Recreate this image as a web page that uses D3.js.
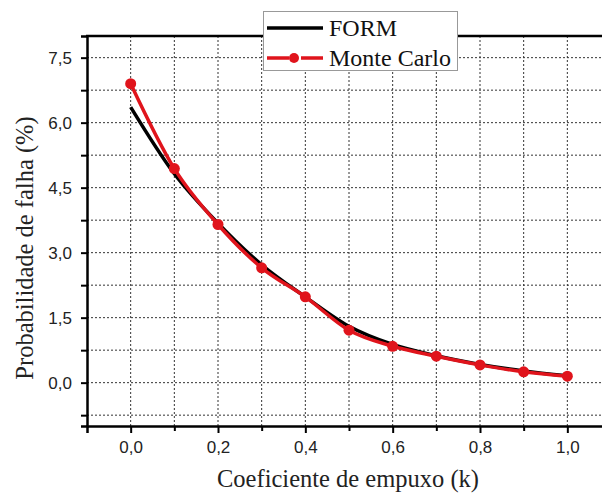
<!DOCTYPE html>
<html>
<head>
<meta charset="utf-8">
<script src="https://cdn.jsdelivr.net/npm/d3@7"></script>
<style>
  body { margin: 0; background: #fff; }
  svg { display: block; }
</style>
</head>
<body>
<div id="chart"></div>
<script>
// values
const kValues = [0.0, 0.1, 0.2, 0.3, 0.4, 0.5, 0.6, 0.7, 0.8, 0.9, 1.0];
const formValues = [6.36, 4.82, 3.68, 2.72, 1.98, 1.30, 0.88, 0.62, 0.42, 0.27, 0.16];
const monteCarloValues = [6.90, 4.94, 3.65, 2.65, 1.98, 1.21, 0.84, 0.61, 0.41, 0.25, 0.15];
const xTicks = [0.0, 0.2, 0.4, 0.6, 0.8, 1.0];
const xMinor = [0.1, 0.3, 0.5, 0.7, 0.9];
const yTicks = [0.0, 1.5, 3.0, 4.5, 6.0, 7.5];
const yMinor = [-0.75, 0.75, 2.25, 3.75, 5.25, 6.75];
const seriesNames = ["FORM", "Monte Carlo"];

const width = 602;
const height = 495;
const margin = { top: 36, right: -9, bottom: 69, left: 87 };

const x = d3.scaleLinear()
    .domain([-0.1, 1.1])
    .range([margin.left, width - margin.right]);

const y = d3.scaleLinear()
    .domain([-1, 8])
    .range([height - margin.bottom, margin.top]);

const comma = d => d3.format(".1f")(d).replace(".", ",");

const svg = d3.select("#chart")
    .append("svg")
    .attr("width", width)
    .attr("height", height);

// dotted grid
const grid = svg.append("g");
grid.selectAll(".vgrid")
    .data(kValues)
    .enter()
    .append("line")
    .attr("x1", d => x(d))
    .attr("x2", d => x(d))
    .attr("y1", y(-1))
    .attr("y2", y(8))
    .attr("stroke", "#333")
    .attr("stroke-width", 1)
    .attr("stroke-dasharray", "2,2");

grid.selectAll(".hgrid")
    .data(yTicks.concat(yMinor))
    .enter()
    .append("line")
    .attr("x1", x(-0.1))
    .attr("x2", width)
    .attr("y1", d => y(d))
    .attr("y2", d => y(d))
    .attr("stroke", "#333")
    .attr("stroke-width", 1)
    .attr("stroke-dasharray", "2,2");

// axes
svg.append("g")
    .attr("transform", `translate(0, ${y(-1)})`)
    .call(d3.axisBottom(x).tickValues(xTicks).tickFormat(comma).tickSize(7).tickPadding(8));

svg.append("g")
    .attr("transform", `translate(0, ${y(-1)})`)
    .call(d3.axisBottom(x).tickValues(xMinor).tickFormat("").tickSize(5))
    .select(".domain").remove();

svg.append("g")
    .attr("transform", `translate(${x(-0.1)}, 0)`)
    .call(d3.axisLeft(y).tickValues(yTicks).tickFormat(comma).tickSize(6).tickPadding(9));

svg.append("g")
    .attr("transform", `translate(${x(-0.1)}, 0)`)
    .call(d3.axisLeft(y).tickValues(yMinor).tickFormat("").tickSize(6))
    .select(".domain").remove();

svg.selectAll(".domain")
    .attr("stroke", "#000")
    .attr("stroke-width", 2.5);

svg.selectAll(".tick line")
    .attr("stroke", "#000")
    .attr("stroke-width", 2);

svg.selectAll(".tick text")
    .style("font-family", "'Liberation Sans', Arial, sans-serif")
    .style("font-size", "17px")
    .style("fill", "#222");

// top frame line
svg.append("line")
    .attr("x1", x(-0.1) - 1)
    .attr("x2", width)
    .attr("y1", y(8))
    .attr("y2", y(8))
    .attr("stroke", "#000")
    .attr("stroke-width", 2.5);

// series
const formLine = d3.line()
    .x((d, i) => x(kValues[i]))
    .y(d => y(d))
    .curve(d3.curveMonotoneX);

svg.append("path")
    .datum(formValues)
    .attr("d", formLine)
    .attr("fill", "none")
    .attr("stroke", "#000")
    .attr("stroke-width", 3.5);

const mcLine = d3.line()
    .x((d, i) => x(kValues[i]))
    .y(d => y(d))
    .curve(d3.curveMonotoneX);

svg.append("path")
    .datum(monteCarloValues)
    .attr("d", mcLine)
    .attr("fill", "none")
    .attr("stroke", "#e0141c")
    .attr("stroke-width", 3.5);

svg.selectAll(".mc-dot")
    .data(monteCarloValues)
    .enter()
    .append("circle")
    .attr("cx", (d, i) => x(kValues[i]))
    .attr("cy", d => y(d))
    .attr("r", 5.5)
    .attr("fill", "#e0141c");

// axis titles
svg.append("text")
    .attr("x", 348)
    .attr("y", 487)
    .attr("text-anchor", "middle")
    .style("font-family", "'Liberation Serif', 'Times New Roman', serif")
    .style("font-size", "24.5px")
    .style("fill", "#222")
    .text("Coeficiente de empuxo (k)");

svg.append("text")
    .attr("transform", "translate(33, 248) rotate(-90)")
    .attr("text-anchor", "middle")
    .style("font-family", "'Liberation Serif', 'Times New Roman', serif")
    .style("font-size", "24.5px")
    .style("fill", "#222")
    .text("Probabilidade de falha (%)");

// legend
const legend = svg.append("g")
    .attr("transform", "translate(263, 11)");

legend.append("rect")
    .attr("x", 0.5)
    .attr("y", 0.5)
    .attr("width", 194)
    .attr("height", 59)
    .attr("fill", "#fff")
    .attr("stroke", "#999")
    .attr("stroke-width", 1);

legend.append("line")
    .attr("x1", 4).attr("x2", 60)
    .attr("y1", 17).attr("y2", 17)
    .attr("stroke", "#000")
    .attr("stroke-width", 3.5);

legend.append("line")
    .attr("x1", 4).attr("x2", 60)
    .attr("y1", 47).attr("y2", 47)
    .attr("stroke", "#e0141c")
    .attr("stroke-width", 3.5)
    .attr("stroke-dasharray", "22,12");

legend.append("circle")
    .attr("cx", 31)
    .attr("cy", 47)
    .attr("r", 5)
    .attr("fill", "#e0141c");

legend.selectAll(".legend-text")
    .data(seriesNames)
    .enter()
    .append("text")
    .attr("x", 66)
    .attr("y", (d, i) => 25 + i * 30)
    .style("font-family", "'Liberation Serif', 'Times New Roman', serif")
    .style("font-size", "24px")
    .style("fill", "#111")
    .text(d => d);
</script>
</body>
</html>
